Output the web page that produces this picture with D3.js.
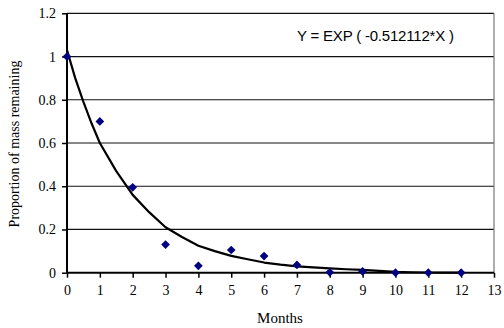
<!DOCTYPE html>
<html><head><meta charset="utf-8">
<script src="https://cdn.jsdelivr.net/npm/d3@7"></script>
<style>body{margin:0;background:#fff}</style>
</head><body>
<svg id="c" width="504" height="328"></svg>
<script>
const months = [0,1,2,3,4,5,6,7,8,9,10,11,12];
const massRemaining = [1.0,0.70,0.395,0.13,0.032,0.105,0.077,0.036,0.002,0.006,0.0,0.0,0.0];
const fitX = [0,0.25,0.5,0.75,1,1.5,2,2.5,3,3.5,4,4.5,5,5.5,6,6.5,7,7.5,8,8.5,9,9.5,10,10.5,11,11.5,12];
const fitY = [1.03,0.9,0.79,0.69,0.6,0.47,0.36,0.28,0.21,0.165,0.125,0.1,0.078,0.062,0.047,0.037,0.029,0.025,0.02,0.016,0.013,0.008,0.004,0.002,0.001,0.0005,0.0];
const xTicks = [0,1,2,3,4,5,6,7,8,9,10,11,12,13];
const yTicks = [0,0.2,0.4,0.6,0.8,1,1.2];
const equation = "Y = EXP ( -0.512112*X )";

const svg = d3.select("#c");
const L=67, R=494, T=13.3, B=272.7;
const x = d3.scaleLinear().domain([0,13]).range([L,R]);
const y = d3.scaleLinear().domain([0,1.2]).range([B,T]);

svg.append("g").selectAll("line").data(yTicks.filter(d=>d>0)).join("line")
  .attr("x1",L).attr("x2",R).attr("y1",d=>y(d)).attr("y2",d=>y(d))
  .attr("stroke","#111").attr("stroke-width",1.2);
svg.append("line").attr("x1",R).attr("x2",R).attr("y1",T).attr("y2",B)
  .attr("stroke","#777").attr("stroke-width",1.2);

const yAxis = d3.axisLeft(y).tickValues(yTicks).tickSize(5).tickPadding(6).tickFormat(d3.format("~g"));
const gy = svg.append("g").attr("transform",`translate(${L},0)`).call(yAxis);
const xAxis = d3.axisBottom(x).tickValues(xTicks).tickSize(5).tickPadding(7).tickFormat(d3.format("d"));
const gx = svg.append("g").attr("transform",`translate(0,${B})`).call(xAxis);
[gx,gy].forEach(g=>{
  g.select(".domain").attr("stroke","#000").attr("stroke-width",2);
  g.selectAll(".tick line").attr("stroke","#000").attr("stroke-width",1.5);
  g.selectAll("text").attr("font-family","'Liberation Serif',serif").attr("font-size",14).attr("fill","#000");
});
gx.select(".domain").attr("d",`M${L},0H${R}`);
gy.select(".domain").attr("d",`M0,${B}V${T}`);

const line = d3.line().x((d,i)=>x(fitX[i])).y(d=>y(d));
svg.append("path").datum(fitY).attr("d",line).attr("fill","none")
  .attr("stroke","#000").attr("stroke-width",2.2).attr("stroke-linejoin","round");

svg.append("g").selectAll("path").data(months).join("path")
  .attr("transform",(d,i)=>`translate(${x(d)},${y(massRemaining[i])}) rotate(45)`)
  .attr("d",d3.symbol(d3.symbolSquare, 38)())
  .attr("fill","#000080");

svg.append("text").attr("x",297).attr("y",40.5).attr("font-family","'Liberation Sans',Arial,sans-serif")
  .attr("font-size",15).attr("letter-spacing",-0.2).attr("fill","#000").text(equation);
svg.append("text").attr("x",280).attr("y",323).attr("text-anchor","middle")
  .attr("font-family","'Liberation Serif',serif").attr("font-size",15).text("Months");
svg.append("text").attr("transform","translate(18.5,144) rotate(-90)").attr("text-anchor","middle")
  .attr("font-family","'Liberation Serif',serif").attr("font-size",14).text("Proportion of mass remaining");
</script>
</body></html>
